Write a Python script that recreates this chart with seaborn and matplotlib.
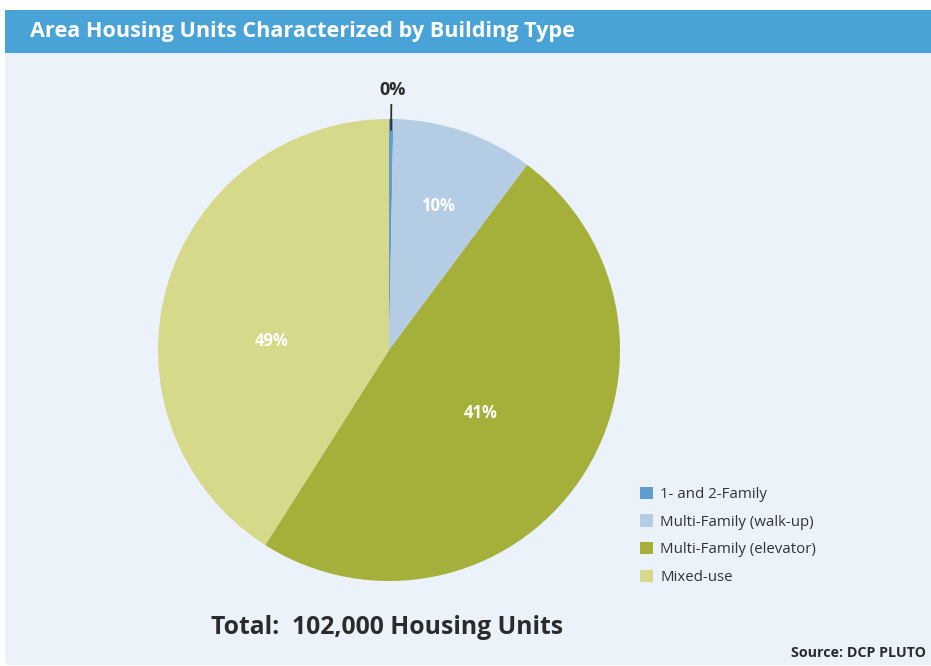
import numpy as np
import matplotlib
matplotlib.use('Agg')
import matplotlib.pyplot as plt
from matplotlib.patches import Rectangle
import seaborn as sns

# building types, clockwise from 12 o'clock
categories = ["1- and 2-Family", "Multi-Family (walk-up)", "Multi-Family (elevator)", "Mixed-use"]
shares = [0.3, 9.9, 48.8, 41.0]          # wedge sizes as drawn in the source chart
pct_labels = ["0%", "10%", "41%", "49%"]  # labels as printed in the source chart
colors = ["#5f9dd0", "#b5cde4", "#a4b03a", "#d6d88a"]

title = "Area Housing Units Characterized by Building Type"
total_text = "Total:  102,000 Housing Units"
source_text = "Source: DCP PLUTO"

sns.set_theme(style="white")
plt.rcParams['font.family'] = ['Open Sans', 'DejaVu Sans']

W, H = 931, 666
fig = plt.figure(figsize=(W / 100, H / 100), dpi=100)
fig.patch.set_facecolor("white")


def px(x, y):
    # figure pixel coords (from top-left) -> figure fractions
    return x / W, 1 - y / H


# panel background + title bar
fig.patches.append(Rectangle(px(5, 665), 926 / W, 612 / H, transform=fig.transFigure,
                             facecolor="#ebf2fa", edgecolor="none", zorder=-2))
fig.patches.append(Rectangle(px(5, 53), 926 / W, 43 / H, transform=fig.transFigure,
                             facecolor="#4aa3d6", edgecolor="none", zorder=-2))
fig.text(*px(30, 31), title, color="white", fontsize=15.6, fontweight="bold",
         ha="left", va="center")

# pie: center (389, 350), radius 231 px
r = 231
ax = fig.add_axes([(389 - r) / W, (H - 350 - r) / H, 2 * r / W, 2 * r / H])
ax.set_facecolor("none")
wedges, _ = ax.pie(shares, colors=colors, startangle=90, counterclock=False,
                   radius=1.0, wedgeprops=dict(linewidth=0))
ax.set_xlim(-1, 1)
ax.set_ylim(-1, 1)
ax.set_aspect("equal")
ax.axis("off")

# inside labels: (radius, angle tweak in degrees)
label_pos = [None, (0.66, 0), (0.48, 0), (0.51, 12)]
for w, lab, pos in zip(wedges, pct_labels, label_pos):
    mid = np.deg2rad((w.theta1 + w.theta2) / 2)
    if pos is None:
        # small slice: label outside with leader line
        ax.plot([np.cos(mid) * 0.95, np.cos(mid) * 1.065],
                [np.sin(mid) * 0.95, np.sin(mid) * 1.065],
                color="#333333", lw=1.3, solid_capstyle="butt", clip_on=False)
        ax.text(np.cos(mid) * 1.1 + 0.005, np.sin(mid) * 1.105, lab,
                ha="center", va="baseline", fontsize=13, fontweight="bold",
                color="#2b2b2b", clip_on=False)
        continue
    rad, tweak = pos
    a = mid + np.deg2rad(tweak)
    ax.text(np.cos(a) * rad, np.sin(a) * rad, lab, ha="center", va="center",
            fontsize=12, fontweight="bold", color="white")

# legend
leg = fig.legend(wedges, categories, loc="upper left", bbox_to_anchor=px(626, 473),
                 frameon=False, fontsize=10.8, handlelength=0.9, handleheight=0.9,
                 handletextpad=0.5, labelspacing=0.82, labelcolor="#333333")

fig.text(*px(387, 628), total_text, ha="center", va="center", fontsize=17.8,
         fontweight="bold", color="#2b2b2b")
fig.text(*px(926, 653), source_text, ha="right", va="center", fontsize=10.3,
         fontweight="bold", color="#2b2b2b")

fig.savefig("out.png", dpi=100, facecolor=fig.get_facecolor())
